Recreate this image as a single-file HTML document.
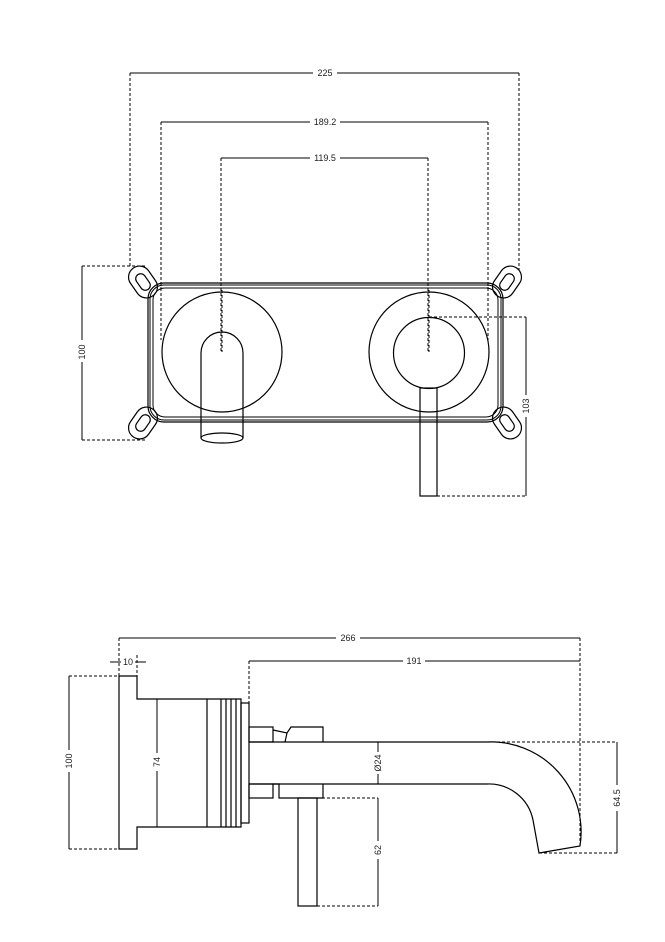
<!DOCTYPE html>
<html><head><meta charset="utf-8"><style>
html,body{margin:0;padding:0;background:#fff}
svg{display:block}
text{font-family:"Liberation Sans",sans-serif;font-size:9px;fill:#222}
.l{stroke:#000;stroke-width:1.2;fill:none}
.d{stroke:#000;stroke-width:1;fill:none;stroke-dasharray:3,2}
.m{stroke:#000;stroke-width:1;fill:none}
</style></head><body>
<svg width="665" height="942" viewBox="0 0 665 942" xmlns="http://www.w3.org/2000/svg">
<g class="m">
<line x1="130" y1="73" x2="519" y2="73"/>
<line x1="161" y1="122" x2="488" y2="122"/>
<line x1="221" y1="158" x2="428" y2="158"/>
<line x1="82" y1="266" x2="82" y2="440"/>
<line x1="526" y1="317" x2="526" y2="496"/>
</g>
<rect x="313" y="67" width="24" height="11" fill="#fff"/>
<text x="325" y="76" text-anchor="middle">225</text>
<rect x="310" y="116" width="30" height="11" fill="#fff"/>
<text x="325" y="125" text-anchor="middle">189.2</text>
<rect x="310" y="152" width="30" height="11" fill="#fff"/>
<text x="325" y="161" text-anchor="middle">119.5</text>
<g class="d">
<line x1="130" y1="73" x2="130" y2="268"/>
<line x1="519" y1="73" x2="519" y2="270"/>
<line x1="161" y1="122" x2="161" y2="290"/>
<line x1="488" y1="122" x2="488" y2="290"/>
<line x1="221" y1="158" x2="221" y2="352"/>
<line x1="428" y1="158" x2="428" y2="352"/>
<line x1="82" y1="266" x2="146" y2="266"/>
<line x1="82" y1="440" x2="146" y2="440"/>
<line x1="429" y1="317" x2="526" y2="317"/>
<line x1="437" y1="496" x2="526" y2="496"/>
</g>
<rect x="76" y="340" width="12" height="22" fill="#fff"/>
<text transform="translate(85,352) rotate(-90)" text-anchor="middle">100</text>
<rect x="520" y="395" width="12" height="22" fill="#fff"/>
<text transform="translate(529,406) rotate(-90)" text-anchor="middle">103</text>
<g class="l" fill="#fff">
<g transform="translate(143,282) rotate(55)"><rect x="-17" y="-11" width="34" height="22" rx="11" fill="#fff"/><rect x="-9" y="-5" width="18" height="10" rx="5"/></g>
<g transform="translate(143,423) rotate(-55)"><rect x="-17" y="-11" width="34" height="22" rx="11" fill="#fff"/><rect x="-9" y="-5" width="18" height="10" rx="5"/></g>
<g transform="translate(507,282) rotate(-55)"><rect x="-17" y="-11" width="34" height="22" rx="11" fill="#fff"/><rect x="-9" y="-5" width="18" height="10" rx="5"/></g>
<g transform="translate(507,423) rotate(55)"><rect x="-17" y="-11" width="34" height="22" rx="11" fill="#fff"/><rect x="-9" y="-5" width="18" height="10" rx="5"/></g>
</g>
<rect x="148" y="283" width="355" height="139" rx="16" class="l" fill="#fff"/>
<rect x="150" y="285" width="351" height="135" rx="14" class="m"/>
<rect x="153" y="288" width="345" height="129" rx="12" class="m"/>
<g class="d"><line x1="161" y1="283" x2="161" y2="340"/><line x1="488" y1="283" x2="488" y2="340"/><line x1="221" y1="283" x2="221" y2="352"/><line x1="428" y1="283" x2="428" y2="352"/></g>
<circle cx="222" cy="352" r="60" class="l" fill="#fff"/>
<line x1="222" y1="290" x2="222" y2="352" class="d"/>
<path d="M201,438 L201,353 A21,21 0 0 1 243,353 L243,438" class="l" fill="#fff"/>
<ellipse cx="222" cy="438" rx="21" ry="5" class="l" fill="#fff"/>
<circle cx="429" cy="352" r="60" class="l" fill="#fff"/>
<circle cx="429" cy="353" r="35.5" class="l" fill="#fff"/>
<line x1="429" y1="290" x2="429" y2="352" class="d"/>
<line x1="429" y1="317" x2="526" y2="317" class="d"/>
<rect x="420" y="388" width="17" height="108" class="l" fill="#fff"/>

<g class="m">
<line x1="119" y1="638" x2="580" y2="638"/>
<line x1="249" y1="661" x2="580" y2="661"/>
<line x1="110" y1="662" x2="146" y2="662"/>
<line x1="69" y1="676" x2="69" y2="849"/>
<line x1="157" y1="699" x2="157" y2="827"/>
<line x1="378" y1="742" x2="378" y2="784"/>
<line x1="378" y1="798" x2="378" y2="906"/>
<line x1="617" y1="742" x2="617" y2="853"/>
</g>
<rect x="336" y="632" width="24" height="11" fill="#fff"/>
<text x="348" y="641" text-anchor="middle">266</text>
<rect x="403" y="655" width="22" height="11" fill="#fff"/>
<text x="414" y="664" text-anchor="middle">191</text>
<rect x="121" y="656" width="14" height="11" fill="#fff"/>
<text x="128" y="665" text-anchor="middle">10</text>
<g class="d">
<line x1="119" y1="638" x2="119" y2="676"/>
<line x1="137" y1="655" x2="137" y2="676"/>
<line x1="249" y1="661" x2="249" y2="742"/>
<line x1="580" y1="638" x2="580" y2="845"/>
<line x1="69" y1="676" x2="119" y2="676"/>
<line x1="69" y1="849" x2="119" y2="849"/>
<line x1="487" y1="742" x2="617" y2="742"/>
<line x1="539" y1="853" x2="617" y2="853"/>
<line x1="317" y1="798" x2="378" y2="798"/>
<line x1="317" y1="906" x2="378" y2="906"/>
</g>
<rect x="63" y="750" width="12" height="22" fill="#fff"/>
<text transform="translate(72,761) rotate(-90)" text-anchor="middle">100</text>
<rect x="151" y="753" width="12" height="18" fill="#fff"/>
<text transform="translate(160,762) rotate(-90)" text-anchor="middle">74</text>
<rect x="372" y="752" width="12" height="22" fill="#fff"/>
<text transform="translate(381,763) rotate(-90)" text-anchor="middle">Ø24</text>
<rect x="372" y="841" width="12" height="18" fill="#fff"/>
<text transform="translate(381,850) rotate(-90)" text-anchor="middle">62</text>
<rect x="611" y="785" width="12" height="26" fill="#fff"/>
<text transform="translate(620,798) rotate(-90)" text-anchor="middle">64.5</text>
<g class="l">
<path d="M119,676 L137,676 L137,699 L241,699 L241,827 L137,827 L137,849 L119,849 Z"/>
<line x1="207" y1="699" x2="207" y2="827"/>
<line x1="221" y1="699" x2="221" y2="827"/>
<line x1="226" y1="699" x2="226" y2="827"/>
<line x1="231" y1="699" x2="231" y2="827"/>
<line x1="236" y1="699" x2="236" y2="827"/>
<rect x="241" y="703" width="8" height="120"/>
<rect x="249" y="727" width="24" height="15"/>
<rect x="249" y="784" width="24" height="14"/>
<path d="M273,730 L287,733 L291,727 L323,727 L323,742 M287,733 L285,742"/>
<path d="M273,784 L279,784 L279,798 L323,798 L323,784"/>
<rect x="298" y="798" width="19" height="108"/>
<path d="M249,742 L487,742 A90,90 0 0 1 580,846 L539,853 L533,820 A45,45 0 0 0 487,784 L249,784"/>
</g>
</svg>
</body></html>
